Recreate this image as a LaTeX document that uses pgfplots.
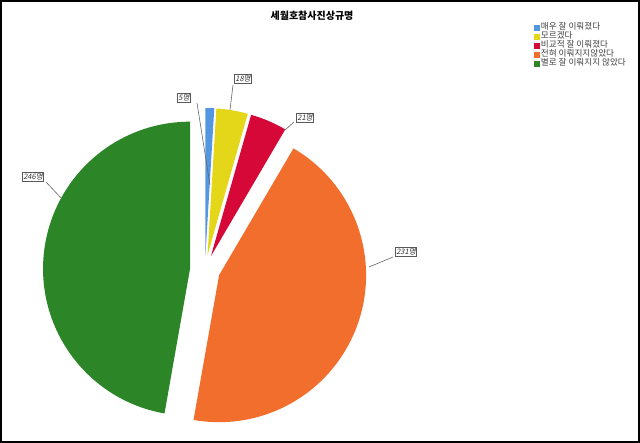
\documentclass[border=0pt]{standalone}
\usepackage{pgfplots}
\pgfplotsset{compat=1.18}
\usepackage{pgfplotstable}
\usepackage{fontspec}
\setmainfont{Noto Sans CJK KR}
\newfontfamily\cjki[FakeSlant=0.2]{Noto Sans CJK KR}

\definecolor{pie0}{RGB}{85,150,225}
\definecolor{pie1}{RGB}{228,214,25}
\definecolor{pie2}{RGB}{214,8,55}
\definecolor{pie3}{RGB}{242,110,45}
\definecolor{pie4}{RGB}{44,134,40}

% responses, clockwise from 12 o'clock
\pgfplotstableread{
idx n
0 5
1 18
2 21
3 231
4 246
}\piedata

\begin{document}
\begin{tikzpicture}
% slice angles from the counts
\def\total{0}
\pgfplotsforeachungrouped \i in {0,...,4}{%
  \pgfplotstablegetelem{\i}{n}\of\piedata
  \pgfmathsetmacro\total{\total+\pgfplotsretval}%
}
\def\cum{0}
\pgfplotsforeachungrouped \i in {0,...,4}{%
  \pgfplotstablegetelem{\i}{n}\of\piedata
  \let\v=\pgfplotsretval
  \pgfmathsetmacro\sa{90-360*(\cum/\total)}%
  \pgfmathsetmacro\cum{\cum+\v}%
  \pgfmathsetmacro\ea{90-360*(\cum/\total)}%
  \pgfmathsetmacro\ma{(\sa+\ea)/2}%
  \pgfmathsetmacro\px{205+15*cos(\ma)}%
  \pgfmathsetmacro\py{173+15*sin(\ma)}%
  \expandafter\xdef\csname sa\i\endcsname{\sa}%
  \expandafter\xdef\csname ea\i\endcsname{\ea}%
  \expandafter\xdef\csname px\i\endcsname{\px}%
  \expandafter\xdef\csname py\i\endcsname{\py}%
}
\begin{axis}[
    width=640pt, height=443pt, scale only axis,
    xmin=0, xmax=640, ymin=0, ymax=443,
    hide axis, clip=false,
    legend image code/.code={\fill[#1, draw=none] (0pt,-3pt) rectangle (6pt,3pt);},
    legend cell align=left,
    legend style={at={(axis cs:534,420)}, anchor=north west,
        draw=none, fill=none, inner sep=0pt, row sep=0pt,
        font=\fontsize{8.6}{9}\selectfont, text=black!75,
        nodes={inner sep=0.75pt, text height=6pt, text depth=1.5pt}},
]
\pgfplotsinvokeforeach{0,...,4}{
  \fill[pie#1] (axis cs:\csname px#1\endcsname,\csname py#1\endcsname)
    -- ++(\csname sa#1\endcsname:147pt)
    arc[start angle=\csname sa#1\endcsname, end angle=\csname ea#1\endcsname, radius=147pt]
    -- cycle;
}
\addlegendimage{fill=pie0}\addlegendentry{매우 잘 이뤄졌다}
\addlegendimage{fill=pie1}\addlegendentry{모르겠다}
\addlegendimage{fill=pie2}\addlegendentry{비교적 잘 이뤄졌다}
\addlegendimage{fill=pie3}\addlegendentry{전혀 이뤄지지않았다}
\addlegendimage{fill=pie4}\addlegendentry{별로 잘 이뤄지지 않았다}

% value labels with leader lines
\draw[gray!80!black, line width=0.6pt] (axis cs:197,340) -- (axis cs:210,258);
\draw[gray!80!black, line width=0.6pt] (axis cs:233,358) -- (axis cs:230,333);
\draw[gray!80!black, line width=0.6pt] (axis cs:294,321) -- (axis cs:285,313);
\draw[gray!80!black, line width=0.6pt] (axis cs:46,261) -- (axis cs:62,244);
\draw[gray!80!black, line width=0.6pt] (axis cs:393,186) -- (axis cs:369,176);
\tikzset{vlab/.style={draw=gray!70!black, fill=white, line width=0.5pt,
    inner sep=1pt, text=black!80, font=\cjki\fontsize{7.5}{8}\selectfont,
    text height=6pt, text depth=1.5pt}}
\node[vlab] at (axis cs:184,345) {5명};
\node[vlab] at (axis cs:243,364) {18명};
\node[vlab] at (axis cs:305,325) {21명};
\node[vlab] at (axis cs:33,266) {246명};
\node[vlab] at (axis cs:406,191) {231명};

\node[font=\bfseries\fontsize{10}{11}\selectfont] at (axis cs:312,427) {세월호참사진상규명};
\draw[black, line width=2.2pt] (axis cs:1.1,1.1) rectangle (axis cs:638.9,441.9);
\end{axis}
\end{tikzpicture}
\end{document}
